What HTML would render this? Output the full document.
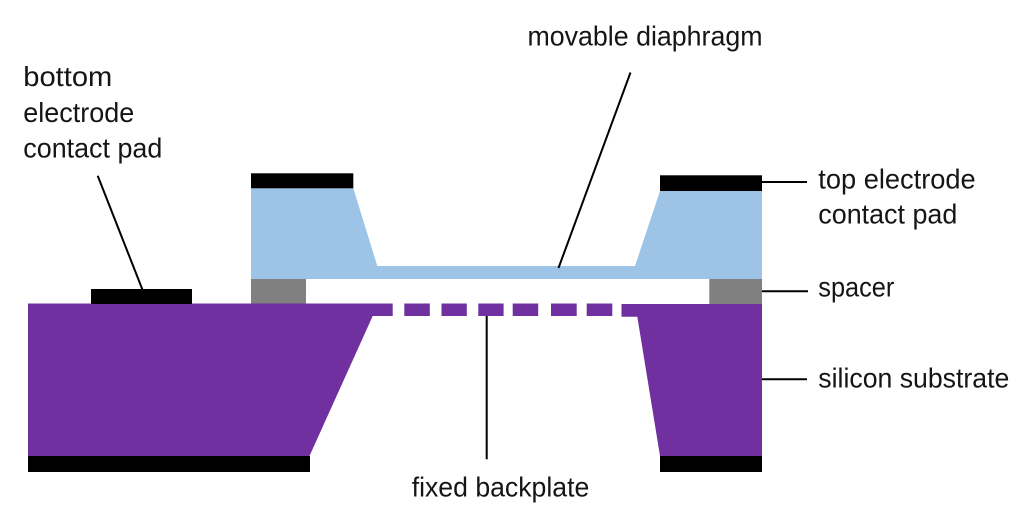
<!DOCTYPE html>
<html>
<head>
<meta charset="utf-8">
<style>
  html, body { margin:0; padding:0; background:#fff; }
  svg { display:block; }
  text { font-family: "Liberation Sans", "DejaVu Sans", sans-serif; font-size:27.5px; fill:#151515; }
</style>
</head>
<body>
<svg width="1024" height="524" viewBox="0 0 1024 524" xmlns="http://www.w3.org/2000/svg">
  <rect width="1024" height="524" fill="#fff"/>

  <!-- left substrate -->
  <polygon points="28,303.5 392.7,303.5 392.7,316 372.7,316 309.5,456 28,456" fill="#7030A0"/>
  <rect x="28" y="456" width="282" height="16" fill="#000"/>
  <!-- bottom electrode pad -->
  <rect x="91" y="289" width="101" height="15" fill="#000"/>

  <!-- backplate dashes -->
  <rect x="404.3" y="303.5" width="25.5" height="12.5" fill="#7030A0"/>
  <rect x="441.5" y="303.5" width="25.3" height="12.5" fill="#7030A0"/>
  <rect x="478.3" y="303.5" width="25.3" height="12.5" fill="#7030A0"/>
  <rect x="512.7" y="303.5" width="25.5" height="12.5" fill="#7030A0"/>
  <rect x="551" y="303.5" width="25.7" height="12.5" fill="#7030A0"/>
  <rect x="586.7" y="303.5" width="25.6" height="12.5" fill="#7030A0"/>

  <!-- right substrate -->
  <polygon points="621.5,304 762,304 762,456 660,456 637.3,316.7 621.5,316.7" fill="#7030A0"/>
  <rect x="660" y="456" width="102" height="16" fill="#000"/>

  <!-- diaphragm (blue) -->
  <polygon points="251,188.3 353.3,188.3 377.3,266 635,266 660,191 762,191 762,279 251,279" fill="#9DC3E6"/>
  <!-- top pads -->
  <rect x="251" y="173.3" width="102.3" height="15" fill="#000"/>
  <rect x="660" y="175.3" width="102" height="15.7" fill="#000"/>

  <!-- spacers -->
  <rect x="251" y="279" width="55" height="24.5" fill="#808080"/>
  <rect x="709.3" y="279" width="52.7" height="25" fill="#808080"/>

  <!-- leader lines -->
  <g stroke="#000" stroke-width="2" fill="none">
    <line x1="97.7" y1="175.7" x2="142.3" y2="289.3"/>
    <line x1="630.5" y1="72.5" x2="558.5" y2="268"/>
    <line x1="486.7" y1="316" x2="486.7" y2="459.3"/>
    <line x1="762" y1="182" x2="807" y2="182"/>
    <line x1="762" y1="291.3" x2="808" y2="291.3"/>
    <line x1="762" y1="379.3" x2="807" y2="379.3"/>
  </g>

  <!-- labels -->
  <text x="527.5" y="45.5" textLength="235" lengthAdjust="spacingAndGlyphs">movable diaphragm</text>
  <text x="23.3" y="86" textLength="89" lengthAdjust="spacingAndGlyphs">bottom</text>
  <text x="23.3" y="122" textLength="111" lengthAdjust="spacingAndGlyphs">electrode</text>
  <text x="23.3" y="157.5" textLength="139" lengthAdjust="spacingAndGlyphs">contact pad</text>
  <text x="818.3" y="188.5" textLength="157.4" lengthAdjust="spacingAndGlyphs">top electrode</text>
  <text x="818.3" y="223.5" textLength="139" lengthAdjust="spacingAndGlyphs">contact pad</text>
  <text x="818.3" y="296.5" textLength="76" lengthAdjust="spacingAndGlyphs">spacer</text>
  <text x="818.3" y="387.5" textLength="191" lengthAdjust="spacingAndGlyphs">silicon substrate</text>
  <text x="411.7" y="496.5" textLength="177.6" lengthAdjust="spacingAndGlyphs">fixed backplate</text>
</svg>
</body>
</html>
